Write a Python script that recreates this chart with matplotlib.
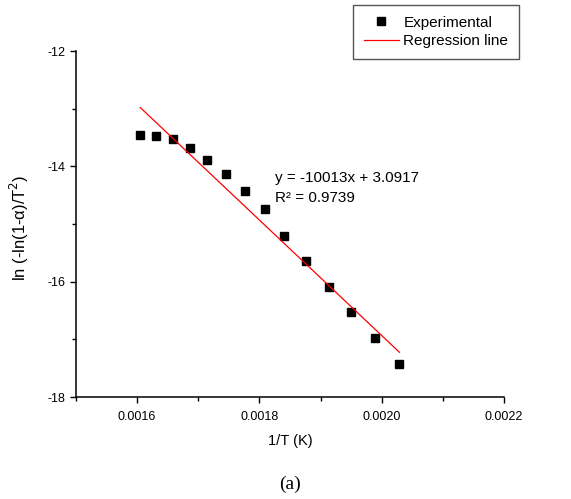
import numpy as np
import matplotlib
matplotlib.use("Agg")
import matplotlib.pyplot as plt
from matplotlib.ticker import MultipleLocator, FormatStrFormatter

plt.rcParams['font.family'] = ['Liberation Sans', 'DejaVu Sans']

# Experimental points
inv_t = [0.001605, 0.001631, 0.001658, 0.001686, 0.001715, 0.001745, 0.001776,
         0.001809, 0.001841, 0.001876, 0.001913, 0.001949, 0.001989, 0.002029]
ln_val = [-13.46, -13.47, -13.52, -13.68, -13.89, -14.13, -14.42,
          -14.74, -15.21, -15.65, -16.09, -16.53, -16.97, -17.42]

# regression coefficients as printed on the chart
slope = -10013
intercept = 3.0917
r2 = 0.9739

fig = plt.figure(figsize=(5.71, 4.99), dpi=100)
ax = fig.add_axes([76 / 571, 1 - 397 / 499, (504 - 76) / 571, (397 - 51) / 499])

line_x = np.array([inv_t[0], inv_t[-1]])
ax.plot(inv_t, ln_val, 's', color='black', ms=6, label="Experimental")
ax.plot(line_x, slope * line_x + intercept, color='red', lw=0.9, label="Regression line")

ax.text(0.001825, -14.27, f"y = {slope}x + {intercept}", fontsize=11)
ax.text(0.001825, -14.62, f"R\u00b2 = {r2}", fontsize=11)

ax.set_xlim(0.0015, 0.0022)
ax.set_ylim(-18, -12)
ax.xaxis.set_major_locator(MultipleLocator(0.0002))
ax.xaxis.set_minor_locator(MultipleLocator(0.0001))
ax.xaxis.set_major_formatter(FormatStrFormatter('%.4f'))
ax.set_xticks([0.0016, 0.0018, 0.0020, 0.0022])
ax.yaxis.set_major_locator(MultipleLocator(2))
ax.yaxis.set_minor_locator(MultipleLocator(1))
ax.yaxis.set_major_formatter(FormatStrFormatter('%d'))

for side in ['top', 'right']:
    ax.spines[side].set_visible(False)
for side in ['left', 'bottom']:
    ax.spines[side].set_linewidth(1.1)
ax.tick_params(which='major', direction='out', length=4, width=1.0, labelsize=9)
ax.tick_params(which='minor', direction='out', length=3, width=1.0)
ax.tick_params(axis='x', which='major', pad=6)

ax.set_xlabel("1/T (K)", fontsize=10.5, labelpad=8)
ax.set_ylabel("ln (-ln(1-\u03b1)/T$^2$)", fontsize=12)
ax.yaxis.set_label_coords(-0.105, 0.49)

leg = ax.legend(loc='upper right', bbox_to_anchor=(519 / 571, 1 - 5 / 499),
                bbox_transform=fig.transFigure, borderaxespad=0, fontsize=11,
                fancybox=False, framealpha=1, edgecolor='#555555',
                borderpad=0.7, labelspacing=0.3, handlelength=2.3, handletextpad=0.3)
leg.get_frame().set_linewidth(1.0)

fig.text(0.5075, 1 - 484 / 499, "(a)", family='Liberation Serif', fontsize=14,
         ha='center', va='center')

fig.savefig("out.png", dpi=100)
